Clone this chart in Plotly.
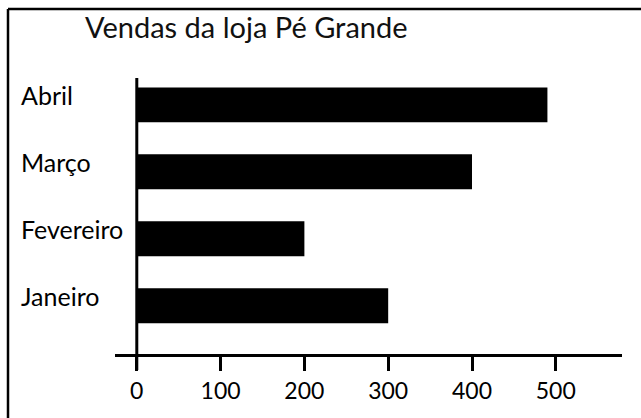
import plotly.graph_objects as go

months = ["Janeiro", "Fevereiro", "Março", "Abril"]
sales = [300, 200, 400, 490]
tick_vals = [0, 100, 200, 300, 400, 500]
tick_text = ["0", "100", "200", "300", "400", "500"]
title_text = "Vendas da loja Pé Grande"

W, H = 641, 418
L, R, T, B = 115, 19, 78, 64
pw = W - L - R
ph = H - T - B

FONT = "Lato"

fig = go.Figure(go.Bar(
    y=months, x=sales, orientation="h",
    marker=dict(color="black", line=dict(width=0)),
    width=0.52,
))

annotations = []
for m in months:
    annotations.append(dict(
        x=(19 - L) / pw, xref="paper", y=m, yref="y", yshift=10,
        text=m, showarrow=False, xanchor="left", yanchor="middle",
        font=dict(family=FONT, size=25, color="black"),
    ))

top_y = (T + ph - 9) / ph
left_x = (8 - L) / pw
shapes = [
    # vertical axis line through 0
    dict(type="line", xref="x", yref="paper", x0=0, x1=0,
         y0=-16 / ph, y1=1.0,
         line=dict(color="black", width=3)),
    # outer frame: left and top edges
    dict(type="line", xref="paper", yref="paper",
         x0=left_x, x1=left_x, y0=(T + ph - H - 2) / ph, y1=top_y,
         line=dict(color="black", width=2.5)),
    dict(type="line", xref="paper", yref="paper",
         x0=left_x, x1=(W + 2 - L) / pw, y0=top_y, y1=top_y,
         line=dict(color="black", width=2.5)),
]

fig.update_layout(
    width=W, height=H,
    margin=dict(l=L, r=R, t=T, b=B),
    paper_bgcolor="white", plot_bgcolor="white",
    showlegend=False,
    title=dict(text=title_text, x=85 / W, xref="container", xanchor="left",
               y=1 - 28 / H, yref="container", yanchor="middle",
               font=dict(family=FONT, size=29, color="#111")),
    xaxis=dict(range=[-26, 579], tickvals=tick_vals, ticktext=tick_text,
               showgrid=False, zeroline=False,
               showline=True, linecolor="black", linewidth=3,
               ticks="outside", ticklen=14, tickwidth=3, tickcolor="black",
               tickfont=dict(family=FONT, size=23, color="black")),
    yaxis=dict(range=[-0.72, 3.4], showticklabels=False, showgrid=False,
               zeroline=False, showline=False, ticks=""),
    annotations=annotations,
    shapes=shapes,
    bargap=0.48,
)

fig.write_html("out.html", config={"displayModeBar": False},
               post_script="document.body.style.margin='0';")
